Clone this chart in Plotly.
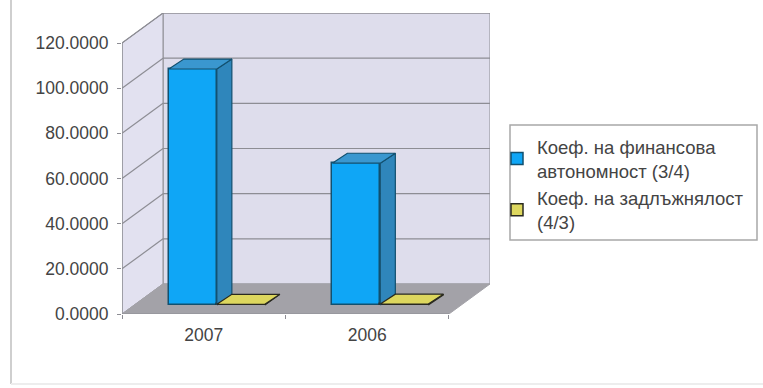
import plotly.graph_objects as go

# Chart data
years = ["2007", "2006"]
autonomy = [104.5, 62.8]
leverage = [0.3, 0.4]
series_names = ["Коеф. на финансова<br>автономност (3/4)", "Коеф. на задлъжнялост<br>(4/3)"]
y_ticks = [0, 20, 40, 60, 80, 100, 120]
y_labels = ["0.0000", "20.0000", "40.0000", "60.0000", "80.0000", "100.0000", "120.0000"]

# Pseudo-3D geometry in axis units (one category = 1 on x, value units on y)
WALL_DX, WALL_DY = 0.251, 13.3      # depth of the box
SHIFT_DX, SHIFT_DY = 0.08, 4.0      # front plane of the bars relative to the box front
BAR_DX, BAR_DY = 0.092, 4.4         # depth of one bar
BAR_W = 0.2936
X0, X1 = -0.5, 1.5
Y_MAX = 120

BLUE, BLUE_SIDE, BLUE_TOP, BLUE_EDGE = "#0FA6F6", "#2F86BB", "#3A97CF", "#12506F"
YELLOW, YELLOW_EDGE = "#DDD75E", "#2A2A20"
WALL, SIDE, FLOOR, GRID = "#DEDDEC", "#E2E1F0", "#A3A2A8", "#8D8D94"
TEXT = "#444444"

fig = go.Figure()


def add_series(name, values, offset, color, side, top, edge):
    xs = [i + offset + SHIFT_DX for i in range(len(values))]
    fig.add_bar(
        x=xs, y=values, base=SHIFT_DY, width=BAR_W, name=name,
        marker=dict(color=color, line=dict(color=edge, width=1.5)),
    )
    for left, v in zip(xs, values):
        l, r = left - BAR_W / 2, left + BAR_W / 2
        b, t = SHIFT_DY, SHIFT_DY + v
        faces = [
            ([r, r + BAR_DX, r + BAR_DX, r, r], [b, b + BAR_DY, t + BAR_DY, t, b], side),
            ([l, r, r + BAR_DX, l + BAR_DX, l], [t, t, t + BAR_DY, t + BAR_DY, t], top),
        ]
        for fx, fy, fc in faces:
            fig.add_scatter(
                x=fx, y=fy, mode="lines", fill="toself", fillcolor=fc,
                line=dict(color=edge, width=1.2), showlegend=False, hoverinfo="skip",
            )


add_series(series_names[0], autonomy, -BAR_W / 2, BLUE, BLUE_SIDE, BLUE_TOP, BLUE_EDGE)
add_series(series_names[1], leverage, BAR_W / 2, YELLOW, YELLOW, YELLOW, YELLOW_EDGE)


def poly(xs, ys, color):
    path = "M " + " L ".join(f"{x},{y}" for x, y in zip(xs, ys)) + " Z"
    return dict(type="path", path=path, xref="x", yref="y", layer="below",
                fillcolor=color, line=dict(color=GRID, width=1))


def seg(x0, y0, x1, y1, color=GRID, width=1.2):
    return dict(type="line", x0=x0, y0=y0, x1=x1, y1=y1, xref="x", yref="y", layer="below",
                line=dict(color=color, width=width))


BX0, BX1 = X0 + WALL_DX, X1 + WALL_DX
shapes = [
    poly([BX0, BX1, BX1, BX0], [WALL_DY, WALL_DY, Y_MAX + WALL_DY, Y_MAX + WALL_DY], WALL),
    poly([X0, BX0, BX0, X0], [0, WALL_DY, Y_MAX + WALL_DY, Y_MAX], SIDE),
    dict(poly([X0, X1, BX1, BX0], [0, 0, WALL_DY, WALL_DY], FLOOR), line=dict(color=FLOOR, width=1)),
]
for v in y_ticks[1:]:
    shapes.append(seg(X0, v, BX0, v + WALL_DY))
    shapes.append(seg(BX0, v + WALL_DY, BX1, v + WALL_DY))
shapes.append(seg(X0, 0, X0, Y_MAX))
shapes.append(seg(X0, 0, X1, 0))

# Outer chart frame and legend box, in page fractions
W, H = 763, 388
frame = dict(color="#CFCFCF", width=2)
shapes += [
    dict(type="line", xref="paper", yref="paper", x0=11 / W, x1=11 / W, y0=1 - 384 / H, y1=1, line=frame),
    dict(type="line", xref="paper", yref="paper", x0=11 / W, x1=1, y0=1 - 384 / H, y1=1 - 384 / H,
         line=dict(color="#EDEDED", width=2)),
    dict(type="rect", xref="paper", yref="paper", x0=510 / W, x1=757 / W, y0=1 - 240 / H, y1=1 - 125 / H,
         line=dict(color="#A8A8A8", width=1.5), fillcolor="#FFFFFF", layer="below"),
]

fig.update_layout(
    width=W, height=H, margin=dict(l=0, r=0, t=0, b=0, autoexpand=False),
    paper_bgcolor="#FFFFFF", plot_bgcolor="rgba(0,0,0,0)",
    barmode="overlay", shapes=shapes, bargap=0,
    font=dict(family="Liberation Sans", size=17.5, color=TEXT),
    xaxis=dict(
        domain=[122 / W, 490 / W], range=[X0, BX1], showgrid=False, zeroline=False, showline=False,
        tickmode="array", tickvals=[0, 1], ticktext=years, ticks="", ticklabelstandoff=8,
        minor=dict(tickmode="array", tickvals=[-0.5, 0.5, 1.5], ticks="outside", ticklen=4, tickcolor=GRID),
    ),
    yaxis=dict(
        domain=[1 - 314 / H, 1 - 13 / H], range=[0, Y_MAX + WALL_DY], showgrid=False, zeroline=False, showline=False,
        tickmode="array", tickvals=y_ticks, ticktext=y_labels, ticks="outside", ticklen=4, tickcolor=GRID,
        ticklabelstandoff=5,
    ),
    legend=dict(
        x=497 / W, y=1 - 128 / H, xanchor="left", yanchor="top", bgcolor="rgba(0,0,0,0)",
        font=dict(size=18.5, color=TEXT), itemwidth=30,
    ),
)

fig.write_html("out.html")
